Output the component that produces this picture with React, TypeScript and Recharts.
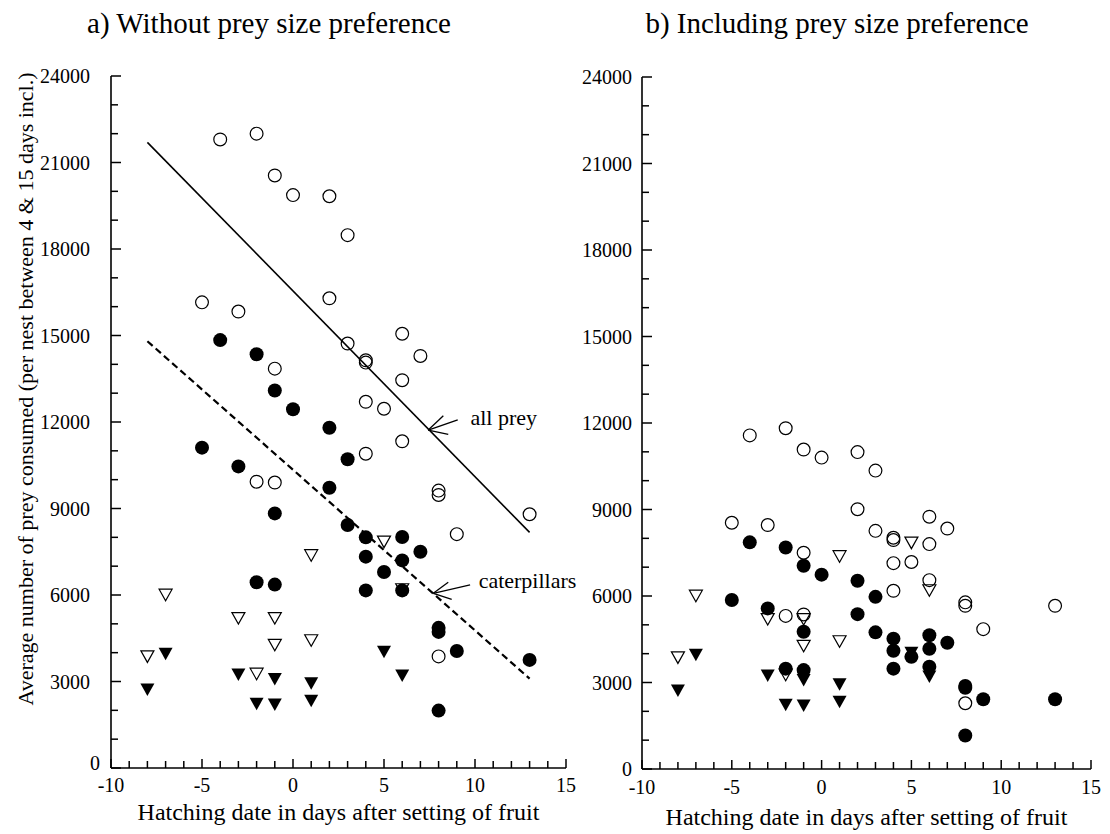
import {
  ScatterChart,
  Scatter,
  XAxis,
  YAxis,
  ReferenceLine,
  ReferenceDot,
} from 'recharts';

const FONT = '"Liberation Serif", "Times New Roman", serif';

type Pt = { day: number; prey: number };

const DAY_TICKS = [-10, -9, -8, -7, -6, -5, -4, -3, -2, -1, 0, 1, 2, 3, 4, 5, 6, 7, 8, 9, 10, 11, 12, 13, 14, 15];
const DAY_LABELS = [-10, -5, 0, 5, 10, 15];
const PREY_TICKS = [0, 1000, 2000, 3000, 4000, 5000, 6000, 7000, 8000, 9000, 10000, 11000, 12000, 13000, 14000, 15000, 16000, 17000, 18000, 19000, 20000, 21000, 22000, 23000, 24000];
const PREY_LABELS = [0, 3000, 6000, 9000, 12000, 15000, 18000, 21000, 24000];

// a) without prey size preference
const allPreyA: Pt[] = [
  { day: -4, prey: 21800 }, { day: -2, prey: 22000 }, { day: -1, prey: 20550 },
  { day: 0, prey: 19870 }, { day: 2, prey: 19830 }, { day: 3, prey: 18480 },
  { day: -5, prey: 16150 }, { day: -3, prey: 15830 }, { day: 2, prey: 16290 },
  { day: 6, prey: 15060 }, { day: 7, prey: 14290 }, { day: 3, prey: 14720 },
  { day: 4, prey: 14140 }, { day: 4, prey: 14060 }, { day: 6, prey: 13450 },
  { day: -1, prey: 13850 }, { day: 4, prey: 12700 }, { day: 5, prey: 12460 },
  { day: 6, prey: 11330 }, { day: 4, prey: 10900 }, { day: -2, prey: 9930 },
  { day: -1, prey: 9900 }, { day: 8, prey: 9620 }, { day: 8, prey: 9470 },
  { day: 13, prey: 8800 }, { day: 9, prey: 8110 }, { day: 8, prey: 3870 },
];
const caterpillarsA: Pt[] = [
  { day: -4, prey: 14840 }, { day: -2, prey: 14350 }, { day: -1, prey: 13090 },
  { day: 0, prey: 12440 }, { day: 2, prey: 11800 }, { day: 3, prey: 10710 },
  { day: -5, prey: 11110 }, { day: -3, prey: 10460 }, { day: 2, prey: 9720 },
  { day: -1, prey: 8830 }, { day: 3, prey: 8430 }, { day: 4, prey: 8000 },
  { day: 6, prey: 8010 }, { day: 7, prey: 7500 }, { day: 4, prey: 7330 },
  { day: 6, prey: 7200 }, { day: 5, prey: 6800 }, { day: 4, prey: 6160 },
  { day: 6, prey: 6160 }, { day: -2, prey: 6440 }, { day: -1, prey: 6360 },
  { day: 8, prey: 4860 }, { day: 8, prey: 4720 }, { day: 9, prey: 4060 },
  { day: 13, prey: 3750 }, { day: 8, prey: 1990 },
];

// b) including prey size preference
const allPreyB: Pt[] = [
  { day: -4, prey: 11570 }, { day: -2, prey: 11820 }, { day: -1, prey: 11080 },
  { day: 0, prey: 10800 }, { day: 2, prey: 10990 }, { day: 3, prey: 10350 },
  { day: -5, prey: 8540 }, { day: -3, prey: 8460 }, { day: 2, prey: 9010 },
  { day: 3, prey: 8260 }, { day: 4, prey: 8020 }, { day: 4, prey: 7940 },
  { day: 6, prey: 8750 }, { day: 7, prey: 8340 }, { day: 6, prey: 7800 },
  { day: -1, prey: 7500 }, { day: 4, prey: 7140 }, { day: 5, prey: 7180 },
  { day: 6, prey: 6550 }, { day: 4, prey: 6180 }, { day: 8, prey: 5780 },
  { day: 8, prey: 5660 }, { day: 13, prey: 5660 }, { day: -2, prey: 5310 },
  { day: -1, prey: 5360 }, { day: 9, prey: 4850 }, { day: 8, prey: 2280 },
];
const caterpillarsB: Pt[] = [
  { day: -4, prey: 7860 }, { day: -2, prey: 7680 }, { day: -1, prey: 7050 },
  { day: 0, prey: 6740 }, { day: 2, prey: 6530 }, { day: 3, prey: 5970 },
  { day: -5, prey: 5860 }, { day: -3, prey: 5570 }, { day: 2, prey: 5370 },
  { day: -1, prey: 4760 }, { day: 3, prey: 4740 }, { day: 4, prey: 4520 },
  { day: 4, prey: 4100 }, { day: 6, prey: 4640 }, { day: 6, prey: 4170 },
  { day: 7, prey: 4380 }, { day: 5, prey: 3890 }, { day: 4, prey: 3480 },
  { day: 6, prey: 3550 }, { day: -2, prey: 3480 }, { day: -1, prey: 3430 },
  { day: 8, prey: 2880 }, { day: 8, prey: 2820 }, { day: 9, prey: 2420 },
  { day: 13, prey: 2420 }, { day: 8, prey: 1160 },
];

// triangles: same in both panels
const openTriangles: Pt[] = [
  { day: 5, prey: 7850 }, { day: 1, prey: 7380 }, { day: -7, prey: 6010 },
  { day: -3, prey: 5200 }, { day: -1, prey: 5200 }, { day: -1, prey: 4270 },
  { day: 1, prey: 4430 }, { day: -8, prey: 3870 }, { day: -2, prey: 3270 },
  { day: 6, prey: 6200 },
];
const filledTriangles: Pt[] = [
  { day: -7, prey: 3965 }, { day: 5, prey: 4030 }, { day: -3, prey: 3240 },
  { day: -1, prey: 3090 }, { day: 1, prey: 2940 }, { day: 6, prey: 3210 },
  { day: -8, prey: 2720 }, { day: -2, prey: 2230 }, { day: -1, prey: 2200 },
  { day: 1, prey: 2330 },
];

// fitted lines and annotation arrows (panel a)
const allPreyFit = [{ x: -8, y: 21700 }, { x: 13, y: 8170 }];
const caterpillarFit = [{ x: -8, y: 14800 }, { x: 13, y: 3100 }];
const allPreyArrow = { tip: { x: 7.43, y: 11720 }, tail: { x: 9.05, y: 12070 }, w1: { x: 8.26, y: 12220 }, w2: { x: 8.53, y: 11570 } };
const caterpillarArrow = { tip: { x: 7.71, y: 6060 }, tail: { x: 9.73, y: 6350 }, w1: { x: 8.53, y: 6440 }, w2: { x: 8.72, y: 5850 } };

const OpenCircle = (p: any) => (
  <circle cx={p.cx} cy={p.cy} r={6.4} fill="none" stroke="#000" strokeWidth={1.2} />
);
const FilledCircle = (p: any) => <circle cx={p.cx} cy={p.cy} r={7} fill="#000" />;
const OpenTri = (p: any) => (
  <polygon
    points={`${p.cx - 6.5},${p.cy - 5.5} ${p.cx + 6.5},${p.cy - 5.5} ${p.cx},${p.cy + 6}`}
    fill="none"
    stroke="#000"
    strokeWidth={1.2}
  />
);
const FilledTri = (p: any) => (
  <polygon
    points={`${p.cx - 7},${p.cy - 6} ${p.cx + 7},${p.cy - 6} ${p.cx},${p.cy + 6.5}`}
    fill="#000"
  />
);

// the "0" label sits closer to the axis (and a bit higher) in panel a
const yTick = (gap: number, zeroGap: number, zeroLift: number) => (props: any) => {
  const { x, y, payload } = props;
  const major = PREY_LABELS.includes(payload.value);
  const isZero = payload.value === 0;
  return (
    <g>
      <line x1={x} x2={x + (major ? 10 : 7)} y1={y} y2={y} stroke="#000" strokeWidth={1.5} />
      {major && (
        <text
          x={x - (isZero ? zeroGap : gap)}
          y={y - (isZero ? zeroLift : 0)}
          dy="0.35em"
          textAnchor="end"
          fontSize={20}
          fontFamily={FONT}
          fill="#000"
        >
          {payload.value}
        </text>
      )}
    </g>
  );
};

const xTick = (down: number) => (props: any) => {
  const { x, y, payload } = props;
  const major = DAY_LABELS.includes(payload.value);
  return (
    <g>
      <line x1={x} x2={x} y1={y} y2={y - (major ? 9 : 7)} stroke="#000" strokeWidth={1.5} />
      {major && (
        <text x={x} y={y + down} dy="0.35em" textAnchor="middle" fontSize={20} fontFamily={FONT} fill="#000">
          {payload.value}
        </text>
      )}
    </g>
  );
};

const xTitle = (down: number) => (props: any) => {
  const vb = props.viewBox;
  return (
    <text x={vb.x + vb.width / 2} y={vb.y + down} dy="0.35em" textAnchor="middle" fontSize={24} fontFamily={FONT} fill="#000">
      Hatching date in days after setting of fruit
    </text>
  );
};

const yTitle = (props: any) => {
  const vb = props.viewBox;
  const cx = vb.x + 25;
  const cy = vb.y + vb.height / 2 - 33;
  return (
    <text x={cx} y={cy} dy="0.35em" textAnchor="middle" fontSize={22} fontFamily={FONT} fill="#000" transform={`rotate(-90 ${cx} ${cy})`}>
      Average number of prey consumed (per nest between 4 &amp; 15 days incl.)
    </text>
  );
};

const seg = (a: { x: number; y: number }, b: { x: number; y: number }) => [a, b];

const titleStyle = (left: number): React.CSSProperties => ({
  position: 'absolute',
  left,
  top: 9,
  width: 400,
  textAlign: 'center',
  fontFamily: FONT,
  fontSize: 29,
  lineHeight: '29px',
  color: '#000',
  whiteSpace: 'nowrap',
});

const axisLine = { stroke: '#000', strokeWidth: 1.6 };
const arrowStyle = { stroke: '#000', strokeWidth: 1.3 };
const annoLabel = (value: string) => ({
  value,
  position: 'right' as const,
  offset: 0,
  fontSize: 22,
  fontFamily: FONT,
  fill: '#000',
});

export default function App() {
  return (
    <div style={{ position: 'absolute', left: 0, top: 0, width: 1110, height: 834, background: '#fff' }}>
      <div style={titleStyle(69)}>a) Without prey size preference</div>
      <div style={titleStyle(637)}>b) Including prey size preference</div>

      <div style={{ position: 'absolute', left: 0, top: 0 }}>
        <ScatterChart width={600} height={834} margin={{ top: 76, right: 34, bottom: 0, left: 0 }}>
          <XAxis
            type="number"
            dataKey="day"
            domain={[-10, 15]}
            ticks={DAY_TICKS}
            interval={0}
            height={66}
            tickSize={0}
            tickMargin={0}
            tickLine={false}
            axisLine={axisLine}
            tick={xTick(17)}
            label={{ content: xTitle(44) } as any}
          />
          <YAxis
            type="number"
            dataKey="prey"
            domain={[0, 24000]}
            ticks={PREY_TICKS}
            interval={0}
            width={111}
            tickSize={0}
            tickMargin={0}
            tickLine={false}
            axisLine={axisLine}
            tick={yTick(21, 11, 5)}
            label={{ content: yTitle } as any}
          />
          <Scatter data={allPreyA} shape={OpenCircle} isAnimationActive={false} />
          <Scatter data={openTriangles} shape={OpenTri} isAnimationActive={false} />
          <Scatter data={filledTriangles} shape={FilledTri} isAnimationActive={false} />
          <Scatter data={caterpillarsA} shape={FilledCircle} isAnimationActive={false} />
          <ReferenceLine segment={allPreyFit} stroke="#000" strokeWidth={1.6} />
          <ReferenceLine segment={caterpillarFit} stroke="#000" strokeWidth={2.2} strokeDasharray="7 4" />
          <ReferenceLine segment={seg(allPreyArrow.tail, allPreyArrow.tip)} {...arrowStyle} />
          <ReferenceLine segment={seg(allPreyArrow.tip, allPreyArrow.w1)} {...arrowStyle} />
          <ReferenceLine segment={seg(allPreyArrow.tip, allPreyArrow.w2)} {...arrowStyle} />
          <ReferenceLine segment={seg(caterpillarArrow.tail, caterpillarArrow.tip)} {...arrowStyle} />
          <ReferenceLine segment={seg(caterpillarArrow.tip, caterpillarArrow.w1)} {...arrowStyle} />
          <ReferenceLine segment={seg(caterpillarArrow.tip, caterpillarArrow.w2)} {...arrowStyle} />
          <ReferenceDot x={9.75} y={12180} r={0} fill="none" stroke="none" label={annoLabel('all prey')} />
          <ReferenceDot x={10.2} y={6520} r={0} fill="none" stroke="none" label={annoLabel('caterpillars')} />
        </ScatterChart>
      </div>

      <div style={{ position: 'absolute', left: 580, top: 0 }}>
        <ScatterChart width={530} height={834} margin={{ top: 77, right: 19, bottom: 0, left: 0 }}>
          <XAxis
            type="number"
            dataKey="day"
            domain={[-10, 15]}
            ticks={DAY_TICKS}
            interval={0}
            height={65}
            tickSize={0}
            tickMargin={0}
            tickLine={false}
            axisLine={axisLine}
            tick={xTick(18)}
            label={{ content: xTitle(48) } as any}
          />
          <YAxis
            type="number"
            dataKey="prey"
            domain={[0, 24000]}
            ticks={PREY_TICKS}
            interval={0}
            width={62}
            tickSize={0}
            tickMargin={0}
            tickLine={false}
            axisLine={axisLine}
            tick={yTick(10, 10, 0)}
          />
          <Scatter data={allPreyB} shape={OpenCircle} isAnimationActive={false} />
          <Scatter data={openTriangles} shape={OpenTri} isAnimationActive={false} />
          <Scatter data={filledTriangles} shape={FilledTri} isAnimationActive={false} />
          <Scatter data={caterpillarsB} shape={FilledCircle} isAnimationActive={false} />
        </ScatterChart>
      </div>
    </div>
  );
}
